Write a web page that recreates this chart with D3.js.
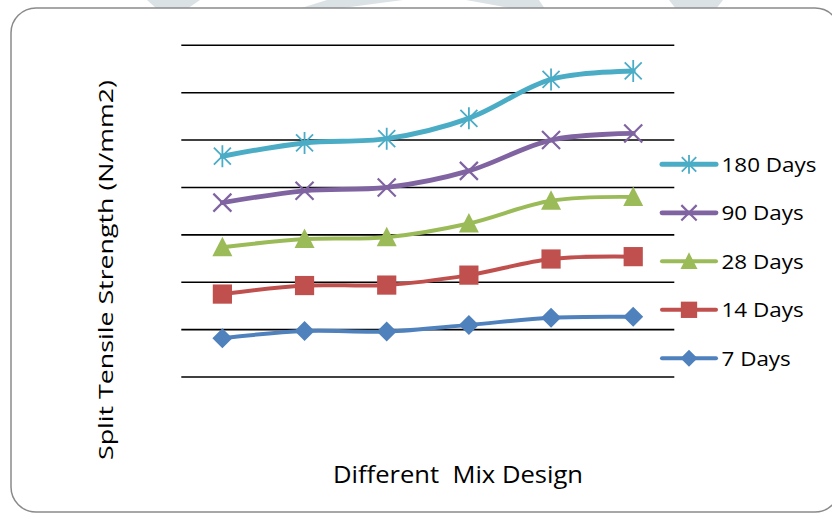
<!DOCTYPE html>
<html>
<head>
<meta charset="utf-8">
<script src="https://cdn.jsdelivr.net/npm/d3@7"></script>
<style>
  html, body { margin: 0; padding: 0; background: #fff; }
  svg { display: block; }
  text { font-family: "Open Sans", "DejaVu Sans", sans-serif; fill: #000; }
</style>
</head>
<body>
<svg id="chart" width="832" height="514"></svg>
<script>
// Mix designs along the x axis (not labelled on the chart)
const mixes = ["Mix 1", "Mix 2", "Mix 3", "Mix 4", "Mix 5", "Mix 6"];

// Curing ages, stacked bottom to top
const ages = ["7 Days", "14 Days", "28 Days", "90 Days", "180 Days"];

// Split tensile strength per age (N/mm2), stacked series values
const days7   = [0.82, 0.97, 0.96, 1.10, 1.25, 1.27];
const days14  = [0.93, 0.96, 0.98, 1.05, 1.24, 1.27];
const days28  = [0.99, 0.98, 1.01, 1.09, 1.23, 1.26];
const days90  = [0.94, 1.02, 1.05, 1.11, 1.28, 1.34];
const days180 = [0.98, 1.01, 1.03, 1.11, 1.28, 1.32];

// Value axis gridline positions
const yTicks = [0, 1, 2, 3, 4, 5, 6, 7];

const seriesValues = [days7, days14, days28, days90, days180];
const colors  = ["#4F81BD", "#C0504D", "#9BBB59", "#8064A2", "#4BACC6"];
const widths  = [4, 4, 4, 4.8, 5];
const markers = ["diamond", "square", "triangle", "x", "star"];

const svg = d3.select("#chart");

// faint background decoration above the frame
const deco = [
  [[147,0],[200,0],[187,9],[157,9]],
  [[327,0],[403,0],[335,9],[298,9]],
  [[466,0],[539,0],[545,9],[515,9]],
  [[669,0],[723,0],[716,9],[676,9]]
];
svg.append("g").selectAll("path").data(deco).join("path")
  .attr("d", d => d3.line().curve(d3.curveLinearClosed)(d))
  .attr("fill", "#dbe2e5");

// chart frame
svg.append("rect")
  .attr("x", 11).attr("y", 8)
  .attr("width", 829).attr("height", 504)
  .attr("rx", 25).attr("ry", 25)
  .attr("fill", "#fff")
  .attr("stroke", "#8a8a8a").attr("stroke-width", 1.5);

// plot area
const plot = { left: 181.3, right: 674.3, top: 45.3, bottom: 377 };

const x = d3.scaleBand().domain(mixes).range([plot.left, plot.right]);
const y = d3.scaleLinear().domain([0, 7]).range([plot.bottom, plot.top]);

// rows for stacking
const rows = mixes.map((m, i) => {
  const r = { mix: m };
  ages.forEach((a, k) => { r[a] = seriesValues[k][i]; });
  return r;
});
const stacked = d3.stack().keys(ages)(rows);

// horizontal gridlines
svg.append("g").selectAll("line").data(yTicks).join("line")
  .attr("x1", plot.left).attr("x2", plot.right)
  .attr("y1", d => y(d)).attr("y2", d => y(d))
  .attr("stroke", "#000").attr("stroke-width", 1.6);

// marker drawing
function drawMarker(g, type, color, s) {
  const h = 10 * s;
  if (type === "diamond") {
    g.append("path").attr("d", `M0,${-h}L${h},0L0,${h}L${-h},0Z`).attr("fill", color);
  } else if (type === "square") {
    const a = 9.6 * s;
    g.append("rect").attr("x", -a).attr("y", -a).attr("width", 2 * a).attr("height", 2 * a)
      .attr("fill", color);
  } else if (type === "triangle") {
    g.append("path").attr("d", `M0,${-10.5 * s}L${10 * s},${9 * s}L${-10 * s},${9 * s}Z`).attr("fill", color);
  } else if (type === "x") {
    const a = 9 * s;
    g.append("path").attr("d", `M${-a},${-a}L${a},${a}M${-a},${a}L${a},${-a}`)
      .attr("stroke", color).attr("stroke-width", 2.2).attr("fill", "none");
  } else if (type === "star") {
    const a = 8.5 * s, v = 11 * s;
    g.append("path").attr("d", `M${-a},${-a}L${a},${a}M${-a},${a}L${a},${-a}M0,${-v}L0,${v}`)
      .attr("stroke", color).attr("stroke-width", 1.8).attr("fill", "none");
  }
}

const cx = d => x(d.data.mix) + x.bandwidth() / 2;
const line = d3.line().x(cx).y(d => y(d[1])).curve(d3.curveCatmullRom.alpha(0.5));

stacked.forEach((layer, k) => {
  const g = svg.append("g");
  g.append("path").datum(layer).attr("d", line)
    .attr("fill", "none").attr("stroke", colors[k])
    .attr("stroke-width", widths[k]).attr("stroke-linecap", "round").attr("stroke-linejoin", "round");
  layer.forEach(d => {
    const mg = g.append("g").attr("transform", `translate(${cx(d)},${y(d[1])})`);
    drawMarker(mg, markers[k], colors[k], 1);
  });
});

// legend (top entry is the last series)
const legendOrder = ages.map((a, k) => k).reverse();
const legend = svg.append("g");
legendOrder.forEach((k, i) => {
  const ly = 164.3 + i * 48.5;
  const g = legend.append("g").attr("transform", `translate(0,${ly})`);
  g.append("line").attr("x1", 662).attr("x2", 716).attr("y1", 0).attr("y2", 0)
    .attr("stroke", colors[k]).attr("stroke-width", widths[k]).attr("stroke-linecap", "round");
  const mg = g.append("g").attr("transform", "translate(689,0)");
  drawMarker(mg, markers[k], colors[k], 0.85);
  g.append("text")
    .attr("transform", "translate(721.5,7.3) scale(1.15,1)")
    .attr("font-size", 19.5)
    .text(ages[k]);
});

// axis titles
svg.append("text")
  .attr("transform", "translate(112.5,270) rotate(-90)")
  .attr("text-anchor", "middle")
  .attr("font-size", 20.5)
  .attr("textLength", 380).attr("lengthAdjust", "spacingAndGlyphs")
  .text("Split Tensile Strength (N/mm2)");

svg.append("text")
  .attr("x", 458).attr("y", 483.3)
  .attr("text-anchor", "middle")
  .attr("font-size", 23)
  .attr("textLength", 250).attr("lengthAdjust", "spacingAndGlyphs")
  .style("white-space", "pre")
  .text("Different  Mix Design");
</script>
</body>
</html>
